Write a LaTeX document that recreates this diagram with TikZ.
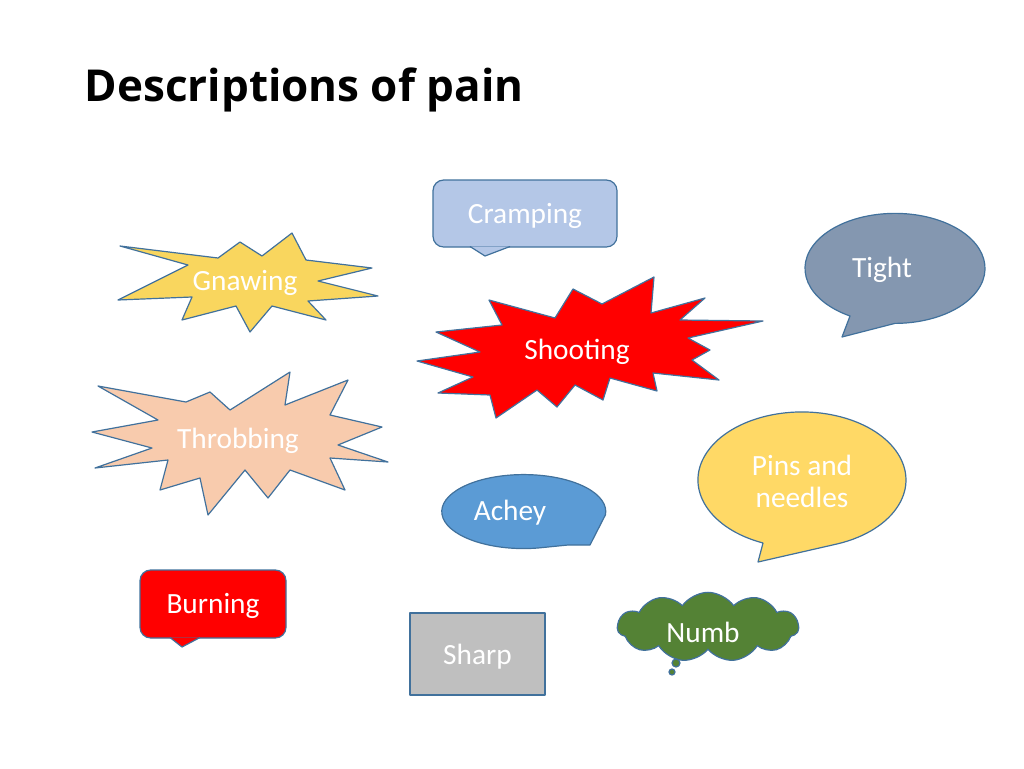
\documentclass[tikz,border=0pt]{standalone}
\usepackage{fontspec}
\setmainfont{Carlito}
\newfontfamily\titlefont{Open Sans}
\usetikzlibrary{shapes.symbols}
\definecolor{edge}{HTML}{41719C}
\definecolor{gnaw}{HTML}{F9D65E}
\definecolor{cramp}{HTML}{B4C7E7}
\definecolor{tight}{HTML}{8497B0}
\definecolor{throb}{HTML}{F8CBAD}
\definecolor{pins}{HTML}{FFD966}
\definecolor{achey}{HTML}{5B9BD5}
\definecolor{sharp}{HTML}{BFBFBF}
\definecolor{numb}{HTML}{548235}
\tikzset{
    blob/.style={draw=edge,line width=0.9pt,line join=round},
    word/.style={text=white,font=\fontsize{22}{26}\selectfont,align=center}
}
\begin{document}
\begin{tikzpicture}[x=0.75pt,y=-0.75pt]
        \useasboundingbox (0,0) rectangle (1024,768);
        \node[anchor=west,font=\titlefont\bfseries\fontsize{33}{38}\selectfont] (title) at (80,90) {Descriptions of pain};

        \draw[blob,fill=gnaw] (120,246) -- (188,265) -- (118,300) -- (192,297) -- (182,320)
            -- (236,306) -- (250,332) -- (272,306) -- (326,320) -- (308,301) -- (378,296)
            -- (318,281) -- (372,268) -- (306,260) -- (292,233) -- (262,256) -- (240,242)
            -- (218,258) -- cycle;
        \node[word] (gnawing) at (245,283) {Gnawing};

        \draw[blob,fill=cramp,rounded corners=8pt] (433,180) rectangle (617,247);
        \draw[blob,fill=cramp] (470,246.5) -- (485,256) -- (510,246.5);
        \fill[cramp] (468,240) rectangle (512,246);
        \node[word] (cramping) at (525,216) {Cramping};

        \draw[blob,fill=tight] (842,337) -- (850,316) arc[start angle=120,end angle=450,x radius=90,y radius=55]
            -- cycle;
        \node[word] (tight) at (882,270) {Tight};

        \draw[blob,fill=red] (417,361) -- (480,352) -- (436,332) -- (502,325) -- (489,300)
            -- (555,318) -- (573,289) -- (602,304) -- (654,277) -- (651,313) -- (705,298)
            -- (680,320) -- (763,321) -- (688,338) -- (710,350) -- (692,360) -- (719,380)
            -- (653,373) -- (657,391) -- (610,378) -- (603,400) -- (575,385) -- (557,407)
            -- (537,390) -- (496,418) -- (490,395) -- (438,393) -- (473,377) -- cycle;
        \node[word] (shooting) at (577,352) {Shooting};

        \draw[blob,fill=throb] (92,432) -- (158,420) -- (98,386) -- (186,402) -- (210,392)
            -- (230,410) -- (290,372) -- (285,405) -- (348,380) -- (330,415) -- (382,427)
            -- (338,445) -- (388,462) -- (330,458) -- (345,490) -- (290,470) -- (268,498)
            -- (245,470) -- (208,515) -- (200,478) -- (160,490) -- (168,460) -- (95,468)
            -- (152,448) -- cycle;
        \node[word] (throbbing) at (238,441) {Throbbing};

        \draw[blob,fill=pins] (758,562) -- (763,543) arc[start angle=112,end angle=430,x radius=104,y radius=68]
            -- cycle;
        \node[word] (pins) at (802,481) {Pins and\\[-2pt]needles};

        \draw[blob,fill=achey] (538,548) arc[start angle=80,end angle=365,x radius=82,y radius=37]
            -- (590,545) -- (568,545) -- cycle;
        \node[word] (achey) at (510,513) {Achey};

        \draw[blob,fill=red,rounded corners=8pt] (140,570) rectangle (286,638);
        \draw[blob,fill=red] (170,637.5) -- (182,647) -- (200,637.5);
        \fill[red] (168,631) rectangle (202,637);
        \node[word] (burning) at (213,606) {Burning};

        \node[blob,fill=sharp,minimum width=101.25pt,minimum height=61.5pt] (sharpbox) at (477.5,654) {};
        \node[word] (sharp) at (477.5,657) {Sharp};

        \node[blob,fill=numb,cloud,cloud puffs=11,cloud puff arc=110,aspect=2.6,
            minimum width=136pt,minimum height=52pt] (cloud) at (708,627) {};
        \draw[blob,fill=numb] (676,663) circle[radius=4];
        \draw[blob,fill=numb] (672,672) circle[radius=3];
        \node[word] (numb) at (703,632) {Numb};
\end{tikzpicture}
\end{document}
